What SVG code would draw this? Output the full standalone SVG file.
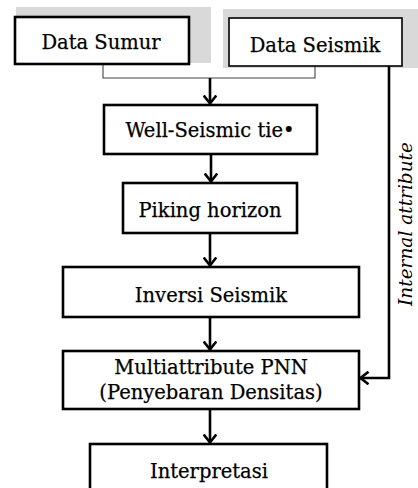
<svg xmlns="http://www.w3.org/2000/svg" width="418" height="488" viewBox="0 0 418 488">
  <defs>
    <!-- open chevron head, drawn pointing along +x so orient="auto" follows each line -->
    <marker id="chev" viewBox="0 0 11 14" refX="9.5" refY="7" markerWidth="11" markerHeight="14" markerUnits="userSpaceOnUse" orient="auto">
      <path d="M2,1.5 L9,7 L2,12.5" fill="none" stroke="#000" stroke-width="2.6" stroke-linecap="square" stroke-linejoin="miter"/>
    </marker>
  </defs>
  <style>
    .box { fill: #fff; stroke: #000; stroke-width: 2.6; }
    .thin { fill: #fff; stroke: #000; stroke-width: 1.6; }
    .shade { fill: #d9d9d9; }
    .lbl { font-family: "DejaVu Serif", "Liberation Serif", serif; font-size: 19.5px; fill: #000; stroke: #000; stroke-width: 0.25; text-anchor: middle; }
    .side { font-family: "DejaVu Serif", "Liberation Serif", serif; font-style: italic; font-size: 18.5px; fill: #000; text-anchor: middle; }
    .wire { fill: none; stroke: #000; stroke-width: 2.6; }
    .join { fill: none; stroke: #444; stroke-width: 1.1; }
  </style>

  <!-- grey backdrops behind the two input boxes -->
  <rect class="shade" x="16" y="7" width="195" height="56"/>
  <rect class="shade" x="223" y="9" width="195" height="59"/>

  <g id="connectors">
    <polyline class="join" points="103,64 103,78 315,78 315,66"/>
    <line class="wire" x1="210" y1="78" x2="210" y2="104" marker-end="url(#chev)"/>
    <line class="wire" x1="211" y1="154" x2="211" y2="182" marker-end="url(#chev)"/>
    <line class="wire" x1="210" y1="233" x2="210" y2="266" marker-end="url(#chev)"/>
    <line class="wire" x1="210" y1="317" x2="210" y2="350" marker-end="url(#chev)"/>
    <line class="wire" x1="210" y1="409" x2="210" y2="443" marker-end="url(#chev)"/>
    <polyline class="wire" points="389,66 389,378 360,378" marker-end="url(#chev)"/>
    <text class="side" transform="translate(412,224) rotate(-90)">Internal attribute</text>
  </g>

  <g id="data-sumur">
    <rect class="box" x="15" y="17" width="174" height="47"/>
    <text class="lbl" x="101" y="49">Data Sumur</text>
  </g>

  <g id="data-seismik">
    <rect class="thin" x="229" y="18" width="173" height="48"/>
    <text class="lbl" x="315" y="52">Data Seismik</text>
  </g>

  <g id="well-seismic-tie">
    <rect class="box" x="104" y="105" width="213" height="49"/>
    <text class="lbl" x="210" y="137">Well-Seismic tie•</text>
  </g>

  <g id="piking-horizon">
    <rect class="box" x="123" y="183" width="174" height="50"/>
    <text class="lbl" x="210" y="217">Piking horizon</text>
  </g>

  <g id="inversi-seismik">
    <rect class="box" x="63" y="267" width="296" height="50"/>
    <text class="lbl" x="211" y="302">Inversi Seismik</text>
  </g>

  <g id="multiattribute-pnn">
    <rect class="box" x="63" y="351" width="296" height="58"/>
    <text class="lbl" x="211" y="374">Multiattribute PNN</text>
    <text class="lbl" x="211" y="399">(Penyebaran Densitas)</text>
  </g>

  <g id="interpretasi">
    <rect class="box" x="90" y="444" width="237" height="60"/>
    <text class="lbl" x="209" y="478">Interpretasi</text>
  </g>
</svg>
